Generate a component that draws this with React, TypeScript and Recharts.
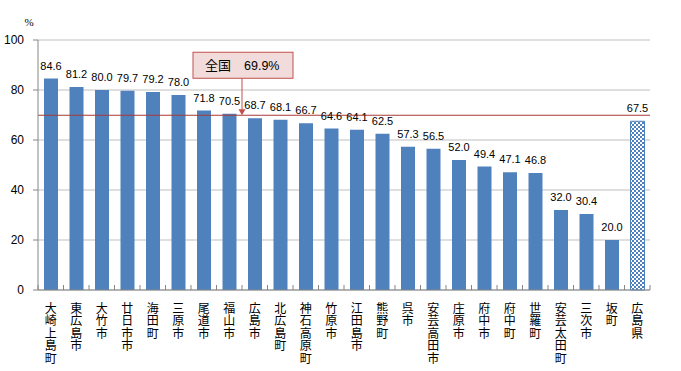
import { BarChart, Bar, XAxis, YAxis, CartesianGrid, ReferenceLine, LabelList, Cell } from "recharts";

const cities = [
  "大崎上島町", "東広島市", "大竹市", "廿日市市", "海田町", "三原市", "尾道市", "福山市",
  "広島市", "北広島町", "神石高原町", "竹原市", "江田島市", "熊野町", "呉市", "安芸高田市",
  "庄原市", "府中市", "府中町", "世羅町", "安芸太田町", "三次市", "坂町", "広島県",
];
const rates = [
  84.6, 81.2, 80.0, 79.7, 79.2, 78.0, 71.8, 70.5, 68.7, 68.1, 66.7, 64.6,
  64.1, 62.5, 57.3, 56.5, 52.0, 49.4, 47.1, 46.8, 32.0, 30.4, 20.0, 67.5,
];
const yTicks = [0, 20, 40, 60, 80, 100];
const national = 69.9;

const data = cities.map((name, i) => ({ name, rate: rates[i] }));

const BLUE = "#4f81bd";
const HALF_BAND = 612 / cities.length / 2;

// category names are written top-to-bottom, one character per row
function VerticalTick({ x, y, payload, index }: any) {
  return (
    <g>
      <line x1={x + HALF_BAND} x2={x + HALF_BAND} y1={y - 5} y2={y} stroke="#868686" />
      {index === 0 && <line x1={x - HALF_BAND} x2={x - HALF_BAND} y1={y - 5} y2={y} stroke="#868686" />}
      <text
        x={x}
        y={y + 12}
        fontSize={12}
        fill="#000"
        fontFamily="'Noto Sans CJK JP'"
        style={{ writingMode: "vertical-rl", letterSpacing: 0.5 } as any}
      >
        {payload.value}
      </text>
    </g>
  );
}

function Callout({ viewBox }: any) {
  const ax = viewBox.x + viewBox.width * (8 / cities.length);
  const ly = viewBox.y;
  const top = ly - 63;
  const bottom = ly - 37;
  return (
    <g>
      <rect x={ax - 49} y={top} width={100} height={26} fill="#f2dcdb" stroke="#c0504d" />
      <text x={ax - 37} y={top + 18} fontSize={13} fill="#000" fontFamily="'Noto Sans CJK JP'">全国</text>
      <text x={ax + 2} y={top + 18} fontSize={12.5} fill="#000" fontFamily="'Liberation Sans', Arial">69.9%</text>
      <line x1={ax} x2={ax} y1={bottom} y2={ly - 5} stroke="#c0504d" />
      <path d={`M${ax - 3.5},${ly - 6} L${ax + 3.5},${ly - 6} L${ax},${ly} Z`} fill="#c0504d" />
    </g>
  );
}

export default function App() {
  return (
    <div style={{ position: "absolute", left: 0, top: 0, background: "#fff" }}>
      <BarChart width={681} height={371} data={data} margin={{ top: 40, right: 31, left: 0, bottom: 0 }} barSize={14}>
        <defs>
          <pattern id="checker" width="4" height="4" patternUnits="userSpaceOnUse">
            <rect width="4" height="4" fill="#ffffff" />
            <rect width="2" height="2" fill={BLUE} />
            <rect x="2" y="2" width="2" height="2" fill={BLUE} />
          </pattern>
        </defs>
        <CartesianGrid vertical={false} stroke="#bfbfbf" />
        <XAxis
          dataKey="name"
          interval={0}
          height={81}
          tickLine={false}
          tickSize={0}
          tickMargin={0}
          axisLine={{ stroke: "#868686" }}
          tick={<VerticalTick />}
        />
        <YAxis
          domain={[0, 100]}
          ticks={yTicks}
          width={38}
          tickSize={5}
          tickMargin={9}
          axisLine={{ stroke: "#868686" }}
          tickLine={{ stroke: "#868686" }}
          tick={{ fontSize: 12, fill: "#000", fontFamily: "'Liberation Sans', Arial" }}
          label={{ value: "%", position: "top", offset: 0, dx: 10, dy: -14, fontSize: 11, fill: "#000" } as any}
        />
        <ReferenceLine y={national} stroke="#a93a36" strokeWidth={1} label={<Callout />} />
        <Bar dataKey="rate" isAnimationActive={false}>
          {data.map((d, i) => (
            <Cell
              key={d.name}
              fill={i === data.length - 1 ? "url(#checker)" : BLUE}
              stroke={i === data.length - 1 ? BLUE : "none"}
            />
          ))}
          <LabelList
            dataKey="rate"
            position="top"
            offset={9}
            formatter={(v: any) => Number(v).toFixed(1)}
            style={{ fontSize: 11, fill: "#000", fontFamily: "'Liberation Sans', Arial" }}
          />
        </Bar>
      </BarChart>
    </div>
  );
}
